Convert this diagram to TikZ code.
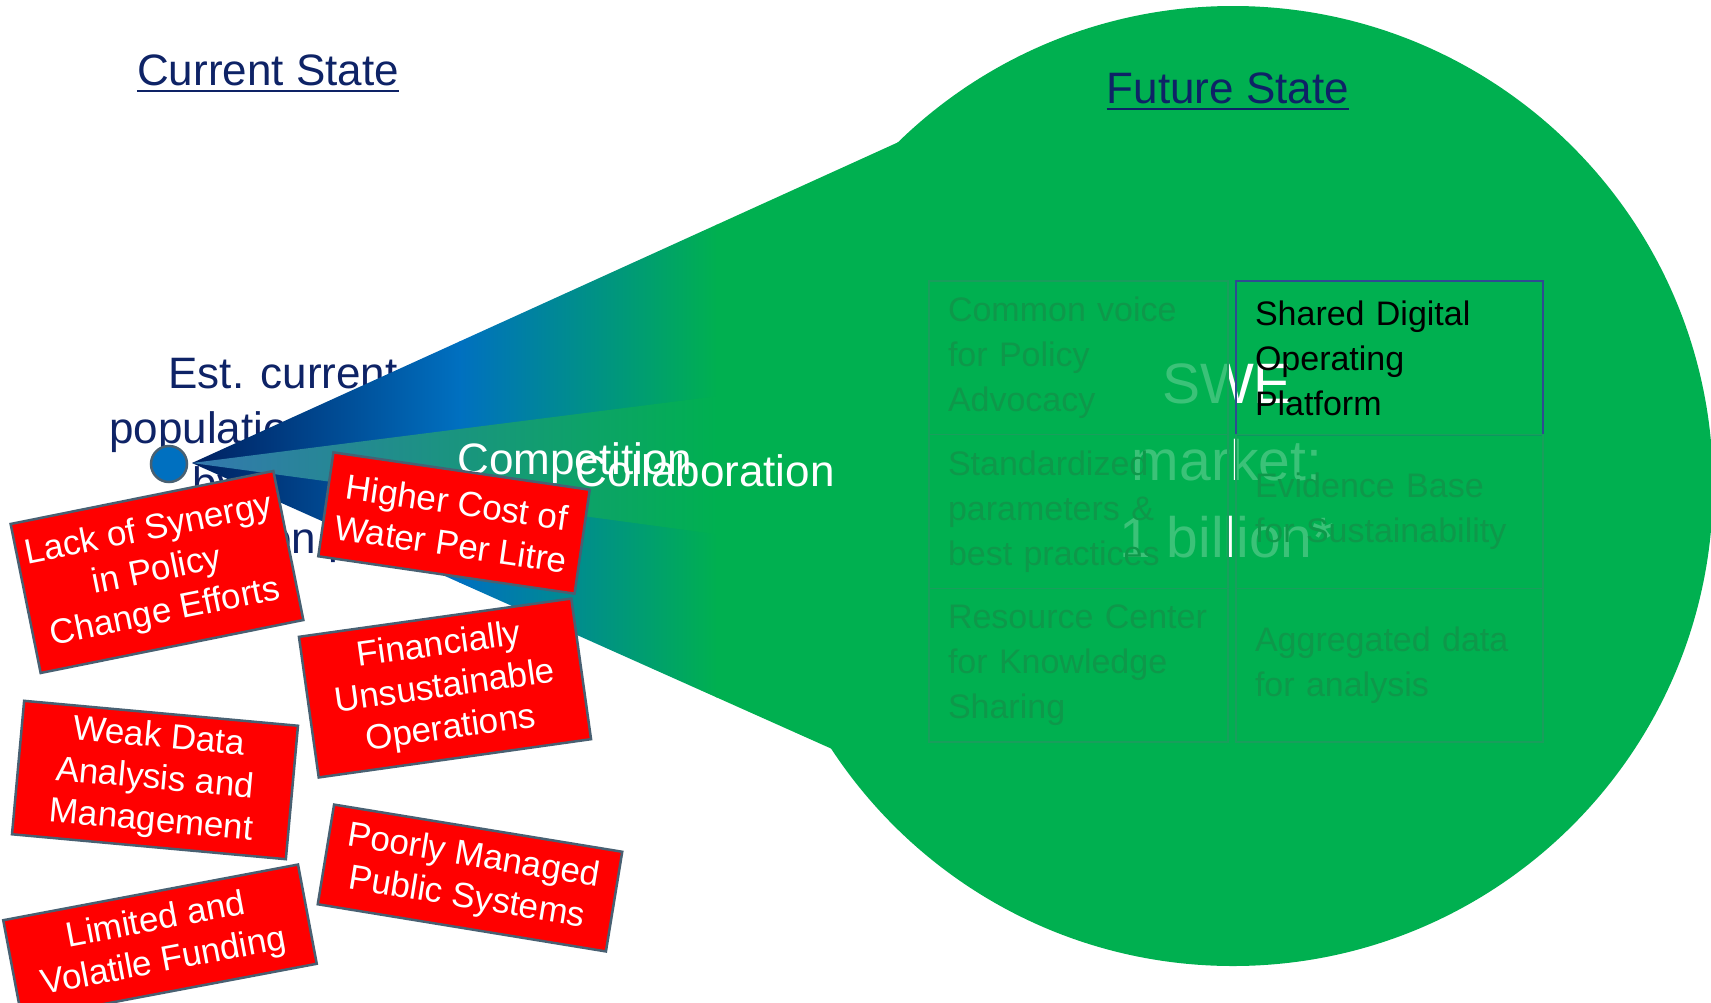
\documentclass[tikz,border=0pt]{standalone}
\usepackage{fontspec}
\setmainfont{Liberation Sans}
\usetikzlibrary{positioning}
\definecolor{swgreen}{HTML}{00B050}
\definecolor{swblue}{HTML}{0070C0}
\definecolor{swnavy}{HTML}{002060}
\definecolor{txtnavy}{HTML}{0E2366}
\definecolor{steel}{RGB}{52,120,175}
\definecolor{slate}{RGB}{72,96,114}
\definecolor{gridgreen}{RGB}{25,158,92}
\definecolor{cellgreen}{RGB}{14,152,74}
\definecolor{boxnavy}{RGB}{47,75,145}
\newcommand\hdrfont{\fontsize{44}{52}\selectfont}
\newcommand\bodyfont{\fontsize{44}{55}\selectfont}
\newcommand\boxfont{\fontsize{35}{42}\selectfont}
\newcommand\cellfont{\fontsize{34}{45}\selectfont}
\newcommand\bigfont{\fontsize{57}{77}\selectfont}

\begin{document}
\begin{tikzpicture}[
				        x=1pt, y=-1pt,
				        header/.style={text=txtnavy, font=\hdrfont, inner sep=0pt, anchor=base},
				        underbar/.style={draw=txtnavy, line width=2.5pt},
				        flow/.style={text=white, font=\bodyfont, inner sep=0pt, anchor=base},
				        problem/.style={draw=slate, line width=2.5pt, fill=red, text=white, font=\boxfont, align=center, inner sep=0pt},
				        cell/.style={draw=gridgreen, line width=1.5pt, fill=swgreen, fill opacity=.77, text opacity=1, text=cellgreen, font=\cellfont, align=left, minimum height=153.7pt, inner xsep=19pt, inner ysep=0pt, outer sep=0pt},
				        leftcell/.style={cell, text width=261pt},
				        rightcell/.style={cell, text width=269pt}
				        ]
				        \useasboundingbox (0,0) rectangle (1711,1002);
				        \node[text=txtnavy, font=\bodyfont, align=center, inner sep=0pt, anchor=base] (est) at (283,553) {Est. current\\population served\\by SWEs\\based on pilots};

				        % funnel
				        \begin{scope}
				              \clip (192,463) -- (1000,96) -- (1000,824) -- cycle;
				              \shade[left color=swnavy, right color=swblue] (191,0) rectangle (460,1002);
				              \shade[left color=swblue, right color=swgreen] (459,0) rectangle (717,1002);
				              \fill[swgreen] (716,0) rectangle (1001,1002);
				        \end{scope}
				        \begin{scope}
				              \clip (192,463) -- (900,373) -- (900,559) -- cycle;
				              \shade[left color=steel, right color=swgreen] (191,0) rectangle (717,1002);
				              \fill[swgreen] (716,0) rectangle (901,1002);
				        \end{scope}
				        \fill[swgreen] (1233,486) circle[radius=480pt];

				        \node[header] (cur) at (268,85) {Current State};
				        \draw[underbar] ([yshift=-6pt]cur.base west) -- ([yshift=-6pt]cur.base east);
				        \node[header] (fut) at (1228,103) {Future State};
				        \draw[underbar] ([yshift=-6pt]fut.base west) -- ([yshift=-6pt]fut.base east);

				        \node[text=white, font=\bigfont, align=center, inner sep=0pt, anchor=base] (swe) at (1227,557) {SWE\\market:\\1 billion*};
				        \node[leftcell, anchor=north west] (voice) at (929,281) {Common voice\\for Policy\\Advocacy};
				        \node[leftcell] (param) [below=0pt of voice] {Standardized\\parameters \&\\best practices};
				        \node[leftcell] (res) [below=0pt of param] {Resource Center\\for Knowledge\\Sharing};
				        \node[rightcell, draw=boxnavy, line width=2pt, fill=none, text=black] (share) [right=8pt of voice] {Shared Digital\\Operating\\Platform};
				        \node[rightcell] (evid) [below=0pt of share] {Evidence Base\\for Sustainability};
				        \node[rightcell] (aggr) [below=0pt of evid] {Aggregated data\\for analysis};

				        \node[circle, fill=swblue, draw=slate, line width=2.5pt, minimum size=36pt, inner sep=0pt] (dot) at (169,464) {};
				        \node[flow] (comp) at (575,474) {Competition};
				        \node[flow] (collab) at (705,486) {Collaboration};

				        \node[problem, rotate=11.4, minimum width=268pt, minimum height=152pt] (synergy) at (157,572) {Lack of Synergy\\in Policy\\Change Efforts};
				        \node[problem, rotate=-8.3, minimum width=259pt, minimum height=105pt] (cost) at (454,523) {Higher Cost of\\Water Per Litre};
				        \node[problem, rotate=8, minimum width=275pt, minimum height=142pt] (finance) at (445,688) {Financially\\Unsustainable\\Operations};
				        \node[problem, rotate=-5.2, minimum width=275pt, minimum height=134pt] (data) at (155,780) {Weak Data\\Analysis and\\Management};
				        \node[problem, rotate=-9.3, minimum width=292pt, minimum height=101pt] (public) at (470,878) {Poorly Managed\\Public Systems};
				        \node[problem, rotate=10.7, minimum width=300pt, minimum height=101pt] (funding) at (160,942) {Limited and\\Volatile Funding};
				    \end{tikzpicture}
\end{document}
